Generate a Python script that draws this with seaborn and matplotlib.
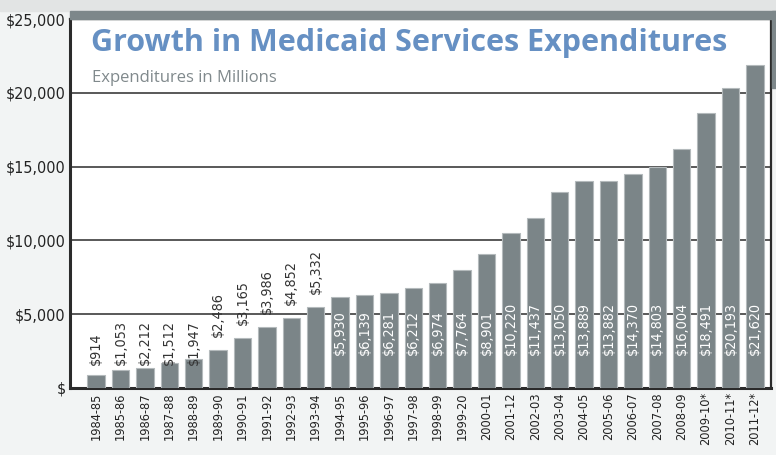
import matplotlib
matplotlib.use("Agg")
import matplotlib.pyplot as plt
import seaborn as sns
import pandas as pd

# fiscal years and bar heights, printed labels as shown
periods = ['1984-85', '1985-86', '1986-87', '1987-88', '1988-89', '1989-90', '1990-91',
           '1991-92', '1992-93', '1993-94', '1994-95', '1995-96', '1996-97', '1997-98',
           '1998-99', '1999-20', '2000-01', '2001-12', '2002-03', '2003-04', '2004-05',
           '2005-06', '2006-07', '2007-08', '2008-09', '2009-10*', '2010-11*', '2011-12*']
heights = [880, 1220, 1380, 1700, 1970, 2600, 3370, 4120, 4730, 5520, 6150, 6290, 6450,
           6780, 7100, 8000, 9090, 10500, 11550, 13250, 14020, 14020, 14500, 14950, 16190,
           18640, 20330, 21870]
labels = ['$914', '$1,053', '$2,212', '$1,512', '$1,947', '$2,486', '$3,165', '$3,986',
          '$4,852', '$5,332', '$5,930', '$6,139', '$6,281', '$6,212', '$6,974', '$7,764',
          '$8,901', '$10,220', '$11,437', '$13,050', '$13,889', '$13,882', '$14,370',
          '$14,803', '$16,004', '$18,491', '$20,193', '$21,620']
yticks = [0, 5000, 10000, 15000, 20000, 25000]
ytick_labels = ['$', '$5,000', '$10,000', '$15,000', '$20,000', '$25,000']

n_outside = 10  # first bars carry their label above the bar

sns.set_style('white')
plt.rcParams['font.family'] = ['DejaVu Sans']
plt.rcParams['font.stretch'] = 'condensed'

bar_color = '#7b8588'
df = pd.DataFrame({'period': periods, 'value': heights})

fig = plt.figure(figsize=(7.76, 4.55), dpi=100)
fig.patch.set_facecolor('#f2f4f4')
# light strip on top and dark band above the plot box
fig.patches.append(plt.Rectangle((0, 1 - 11 / 455), 1, 11 / 455, transform=fig.transFigure,
                                 color='#e2e4e4', zorder=0))
fig.patches.append(plt.Rectangle((70 / 776, 1 - 19 / 455), 1, 8 / 455, transform=fig.transFigure,
                                 color='#7d878a', zorder=0))
fig.patches.append(plt.Rectangle((772 / 776, 1 - 88 / 455), 4 / 776, 77 / 455,
                                 transform=fig.transFigure, color='#7d878a', zorder=0))

ax = fig.add_axes([70 / 776, 1 - 388 / 455, 701 / 776, 369 / 455])
ax.set_facecolor('white')

sns.barplot(data=df, x='period', y='value', color=bar_color, saturation=1, width=0.72,
            edgecolor='#b4babc', linewidth=0.8, ax=ax, zorder=3)

for i, (h, lab) in enumerate(zip(heights, labels)):
    if i < n_outside:
        y = h + 880 if h > 2500 else 1560
        ax.text(i, y, lab, rotation=90, ha='center', va='bottom', fontsize=10.3,
                color='#333333', zorder=4)
    else:
        ax.text(i, 2240, lab, rotation=90, ha='center', va='bottom', fontsize=10.3,
                color='white', zorder=4)

for g in yticks[1:-1]:
    ax.axhline(g, color='#2b2b2b', linewidth=1.1, zorder=1)

ax.set_xlim(-1.07, len(periods) - 0.34)
ax.set_ylim(0, 25000)
ax.set_yticks(yticks)
ax.set_yticklabels(ytick_labels, fontsize=11.5, color='#222222')
ax.set_xticks(range(len(periods)))
ax.set_xticklabels(periods, rotation=90, fontsize=9.2, color='#222222')
ax.tick_params(axis='both', length=0, pad=3)
ax.set_xlabel('')
ax.set_ylabel('')
for side in ['left', 'bottom']:
    ax.spines[side].set_linewidth(2.2)
    ax.spines[side].set_color('#2b2b2b')
for side in ['top', 'right']:
    ax.spines[side].set_linewidth(1.6)
    ax.spines[side].set_color('#2b2b2b')

ax.text(0.03, 0.975, 'Growth in Medicaid Services Expenditures', transform=ax.transAxes,
        ha='left', va='top', fontsize=22, fontweight='bold', color='#6690c3',
        family=['Open Sans', 'DejaVu Sans'], stretch='normal')
ax.text(0.032, 0.862, 'Expenditures in Millions', transform=ax.transAxes, ha='left',
        va='top', fontsize=12, color='#80898c', family=['Open Sans', 'DejaVu Sans'],
        stretch='normal')

fig.savefig('out.png', dpi=100, facecolor=fig.get_facecolor())
